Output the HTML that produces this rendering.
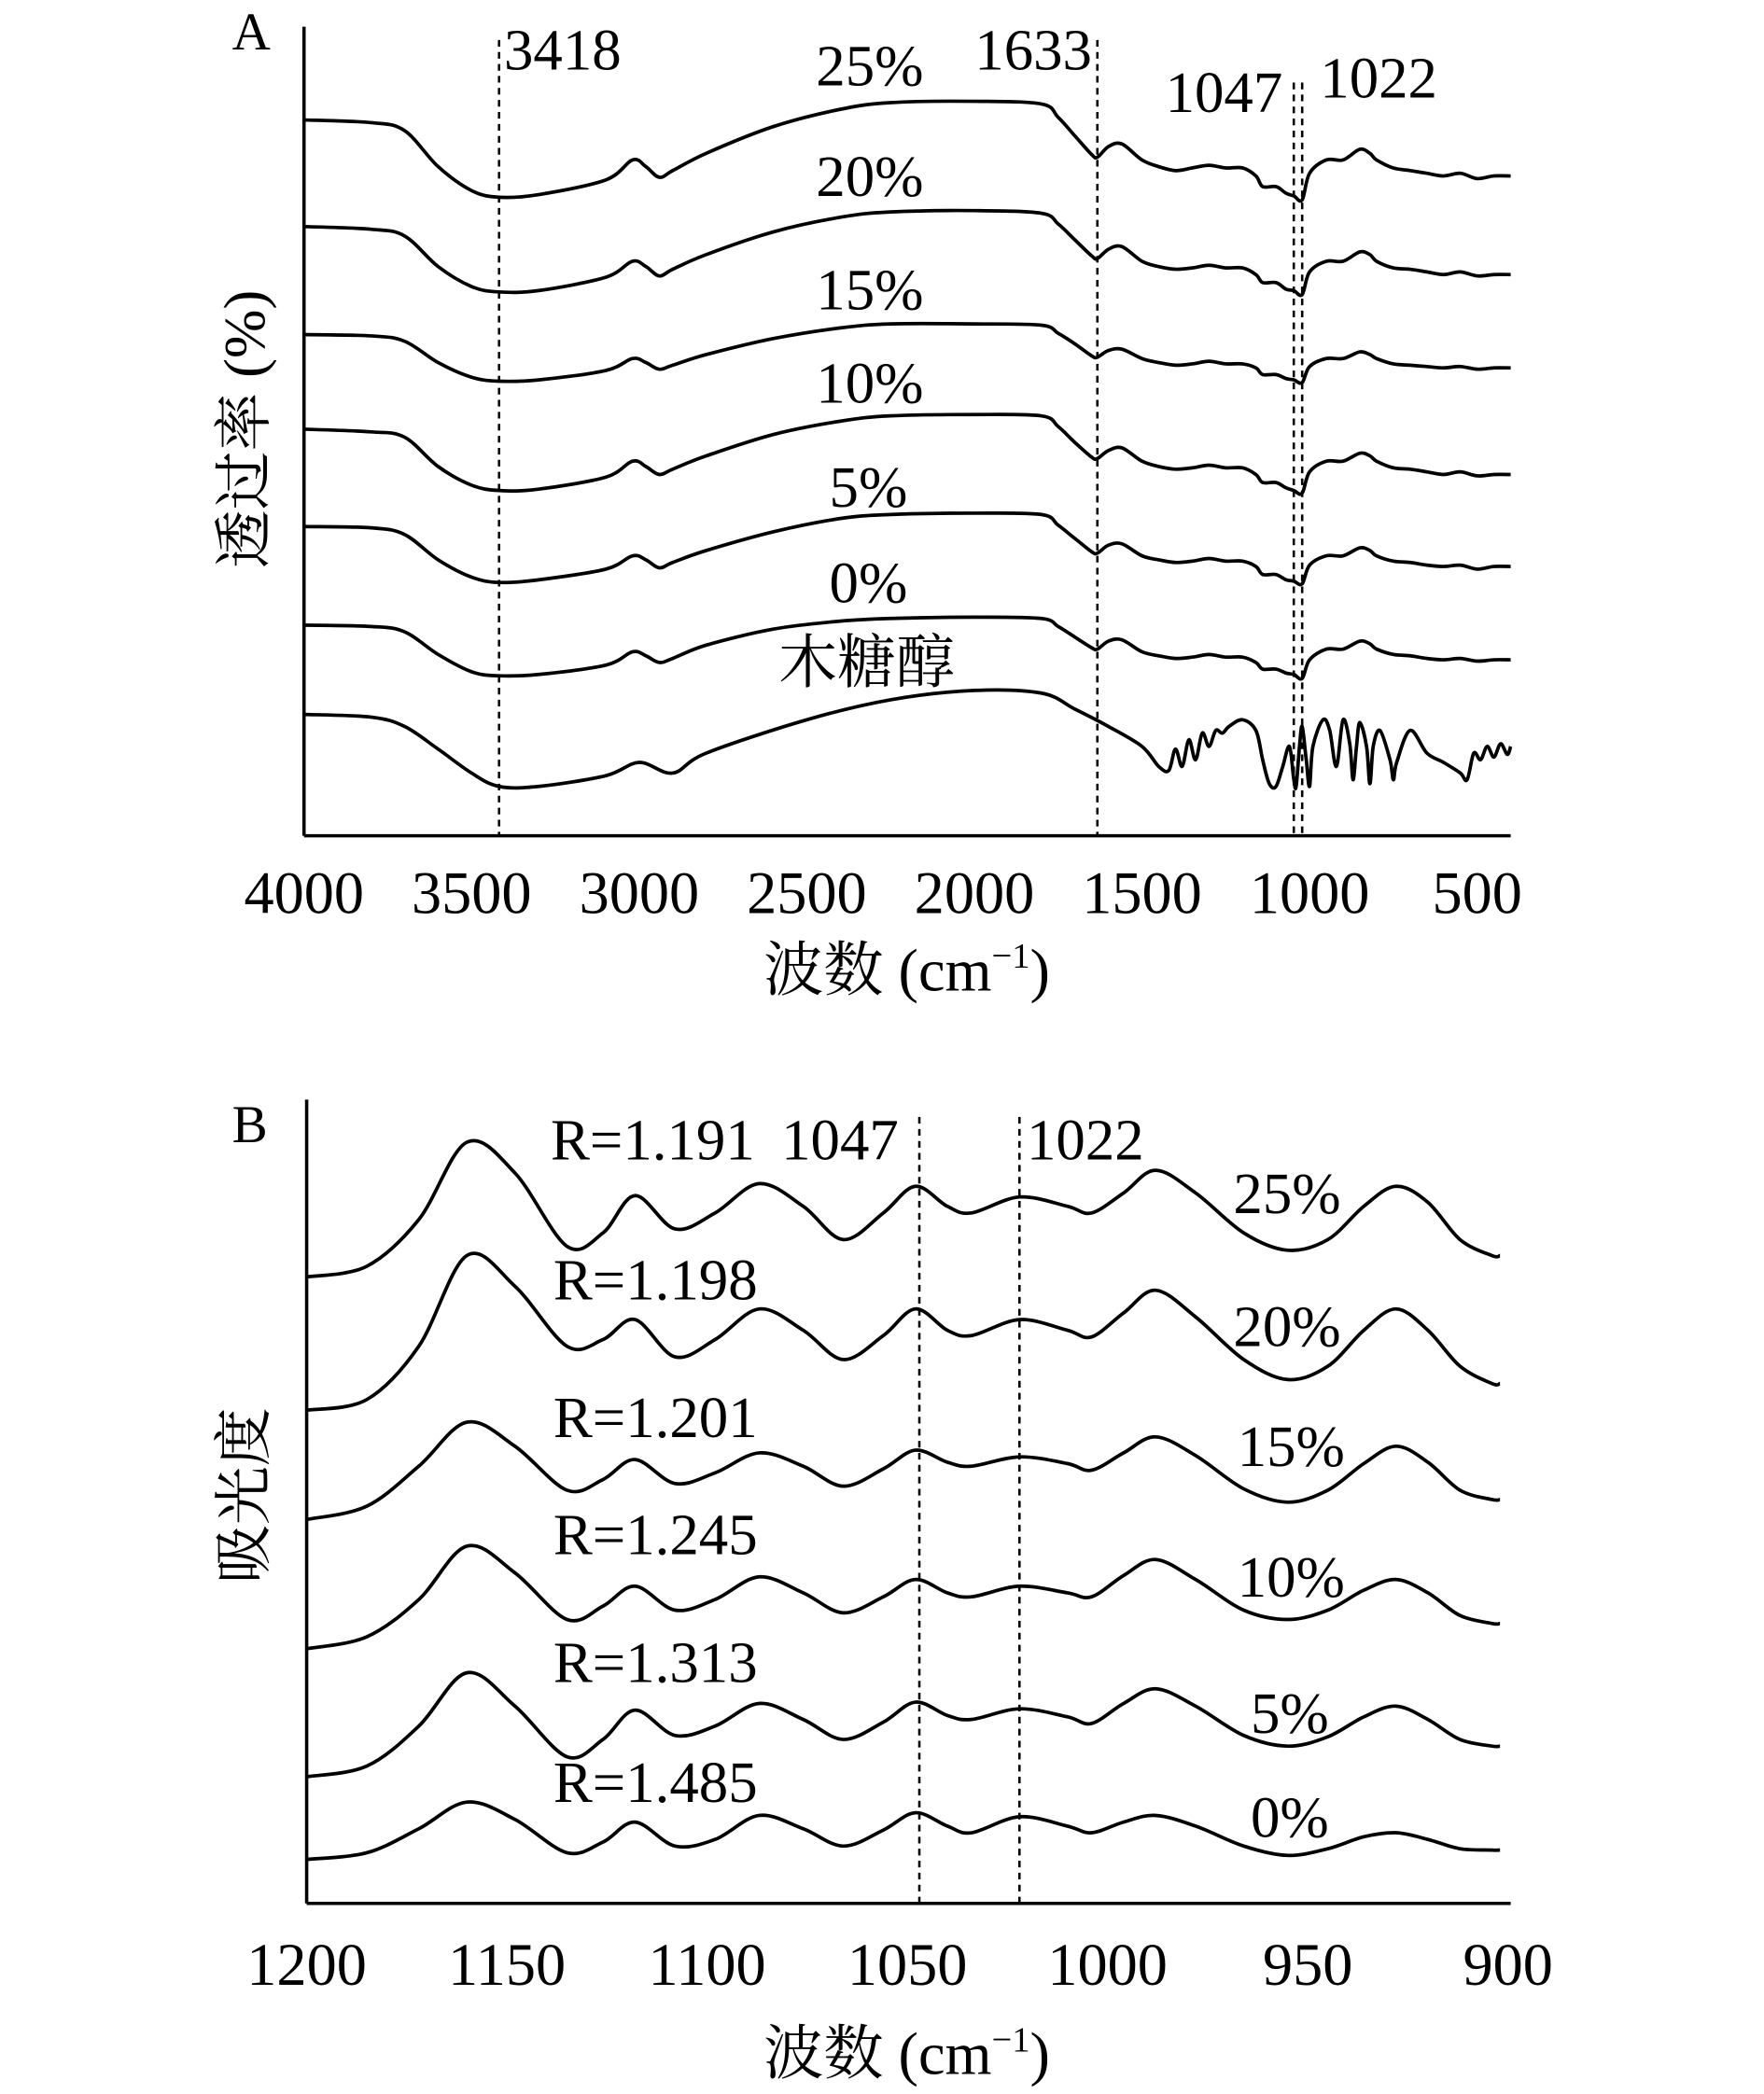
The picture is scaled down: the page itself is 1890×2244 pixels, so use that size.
<!DOCTYPE html>
<html><head><meta charset="utf-8">
<style>
html,body{margin:0;padding:0;background:#fff;}
svg{display:block;}
text{font-family:"Liberation Serif","Noto Serif CJK SC",serif;fill:#000;}
</style></head>
<body>
<svg id="fig" width="1890" height="2244" viewBox="0 0 1323 1571" preserveAspectRatio="none" xmlns="http://www.w3.org/2000/svg">
<g id="panelA">
  <line x1="228" y1="20" x2="228" y2="627" stroke="#000" stroke-width="2.5"/>
  <line x1="228" y1="627" x2="1133" y2="627" stroke="#000" stroke-width="2.5"/>
  <text x="174" y="37" font-size="40">A</text>
  <text x="378" y="52" font-size="44">3418</text>
  <text x="731" y="52" font-size="44">1633</text>
  <text x="874" y="84" font-size="44">1047</text>
  <text x="990" y="73" font-size="44">1022</text>
  <text x="612" y="64" font-size="44">25%</text>
  <text x="612" y="147" font-size="44">20%</text>
  <text x="612" y="232" font-size="44">15%</text>
  <text x="612" y="302" font-size="44">10%</text>
  <text x="622" y="380" font-size="44">5%</text>
  <text x="622" y="452" font-size="44">0%</text>
  <text x="584" y="512" font-size="44">木糖醇</text>
  <text transform="translate(198,322) rotate(-90)" text-anchor="middle" font-size="44">透过率 (%)</text>
  <text x="680" y="743" text-anchor="middle" font-size="45">波数 (cm<tspan font-size="27" dy="-17">−1</tspan><tspan dy="17">)</tspan></text>
</g>
<g id="panelB">
  <line x1="230" y1="825" x2="230" y2="1428" stroke="#000" stroke-width="2.5"/>
  <line x1="230" y1="1428" x2="1133" y2="1428" stroke="#000" stroke-width="2.5"/>
  <text x="174" y="857" font-size="40">B</text>
  <text x="413" y="870" font-size="44">R=1.191</text>
  <text x="586" y="870" font-size="44">1047</text>
  <text x="770" y="870" font-size="44">1022</text>
  <text x="415" y="975" font-size="44">R=1.198</text>
  <text x="415" y="1078" font-size="44">R=1.201</text>
  <text x="415" y="1166" font-size="44">R=1.245</text>
  <text x="415" y="1262" font-size="44">R=1.313</text>
  <text x="415" y="1352" font-size="44">R=1.485</text>
  <text x="925" y="910" font-size="44">25%</text>
  <text x="925" y="1010" font-size="44">20%</text>
  <text x="928" y="1100" font-size="44">15%</text>
  <text x="928" y="1198" font-size="44">10%</text>
  <text x="938" y="1300" font-size="44">5%</text>
  <text x="938" y="1378" font-size="44">0%</text>
  <text transform="translate(198,1122) rotate(-90)" text-anchor="middle" font-size="44">吸光度</text>
  <text x="680" y="1556" text-anchor="middle" font-size="45">波数 (cm<tspan font-size="27" dy="-17">−1</tspan><tspan dy="17">)</tspan></text>
</g>
</svg>
<script>
// ---------- Panel A data ----------
const waveA = [4000,3800,3700,3600,3500,3418,3300,3100,3020,2980,2940,2900,2800,2600,2400,2250,2000,1800,1750,1700,1650,1633,1600,1560,1500,1450,1400,1350,1300,1250,1200,1160,1140,1100,1070,1047,1022,1000,950,900,850,820,800,750,700,650,600,550,500,450,400];
const tA25 = [550,548,542,515,497,492,494,505,520,515,507,512,525,545,558,563,564,562,552,538,524,522,530,532,520,515,512,514,516,514,514,508,500,500,495,493,490,510,520,520,528,525,520,514,512,510,508,510,506,508,508];
const tA20 = [470,468,463,440,425,421,422,432,444,440,433,438,449,466,477,481,482,480,472,460,448,446,453,455,444,440,438,439,441,439,439,434,428,428,423,422,419,436,444,444,451,449,444,439,438,436,434,436,433,434,434];
const tA15 = [389,388,384,368,357,354,355,362,371,368,363,366,374,386,394,397,397,396,390,382,373,372,377,378,371,368,366,367,369,367,367,364,359,359,356,355,353,365,371,371,376,374,371,367,366,365,364,365,363,364,364];
const tA10 = [318,316,312,290,276,272,273,282,294,290,284,288,298,314,324,328,329,328,320,308,297,296,302,304,294,290,288,289,291,289,289,284,278,278,274,272,270,286,294,294,300,298,294,289,288,286,284,286,283,284,284];
const tA5 = [245,244,239,220,207,203,205,213,223,220,214,218,227,241,251,254,255,254,246,236,226,225,231,232,223,220,218,219,221,219,219,215,209,209,205,204,202,216,223,223,229,227,223,219,218,216,215,216,213,215,215];
const tA0 = [171,170,166,149,136,133,134,141,151,148,143,146,156,168,174,176,177,176,170,162,154,153,159,160,151,148,146,147,149,147,147,143,138,138,135,134,131,145,153,153,159,157,153,149,148,146,145,146,144,145,145];
const waveXyl = [4000,3800,3700,3600,3500,3418,3300,3100,3000,2900,2800,2500,2250,2000,1800,1700,1600,1500,1450,1420,1400,1380,1360,1340,1320,1300,1280,1260,1240,1200,1160,1140,1120,1100,1080,1060,1047,1040,1030,1022,1010,1000,990,960,940,920,900,880,870,860,850,830,820,810,790,760,750,740,700,650,600,550,530,510,490,470,450,430,410,400];
const tXyl = [104,102,95,78,60,50,50,58,68,60,75,100,115,122,120,108,95,80,65,62,78,65,85,70,90,80,92,90,95,100,92,70,52,50,65,80,55,50,80,95,70,50,80,100,92,65,100,82,55,80,98,80,52,80,92,70,55,68,92,75,68,60,55,75,70,80,72,82,74,80];
const ticksA = [4000,3500,3000,2500,2000,1500,1000,500];
const markersA = [3418,1633,1047,1022];

// ---------- Panel B data ----------
const waveB = [1200,1185,1172,1160,1148,1135,1126,1118,1108,1098,1087,1076,1066,1056,1048,1040,1034,1022,1010,1004,996,988,978,966,955,945,936,928,920,912,904,902];
const aB25 = [482,490,525,583,560,505,515,543,518,530,552,535,510,530,550,535,530,542,535,530,545,562,545,515,502,510,535,550,538,510,498,498];
const aB20 = [382,390,430,498,475,430,435,450,422,435,458,442,420,438,458,442,438,450,442,437,455,472,452,420,405,415,442,458,442,415,402,402];
const aB15 = [300,310,340,373,355,322,330,345,327,335,350,340,325,338,352,343,340,347,342,337,350,362,348,323,313,322,342,355,343,322,315,315];
const aB10 = [203,212,240,280,260,225,235,250,232,240,257,245,230,242,255,245,242,250,245,242,258,270,255,232,225,232,247,255,245,228,222,222];
const aB5 = [107,115,145,185,160,122,135,157,138,145,162,150,135,148,163,153,150,158,152,147,162,173,160,138,130,137,152,160,150,135,130,130];
const aB0 = [45,50,68,88,75,50,58,73,55,60,78,68,55,67,80,70,65,77,70,65,73,78,70,55,48,53,62,65,60,53,52,52];
const ticksB = [1200,1150,1100,1050,1000,950,900];
const markersB = [1047,1022];

const NS = 'http://www.w3.org/2000/svg';
function lin(d0,d1,r0,r1){return v=>r0+(v-d0)*(r1-r0)/(d1-d0);}
const xA = lin(4000,400,228,1133), yA = lin(0,620,640,20);
const xB = lin(1200,900,230,1131), yB = lin(0,620,1440,820);

function smoothPath(pts){
  let d='M'+pts[0][0].toFixed(1)+','+pts[0][1].toFixed(1);
  for(let i=0;i<pts.length-1;i++){
    const p0=pts[Math.max(i-1,0)],p1=pts[i],p2=pts[i+1],p3=pts[Math.min(i+2,pts.length-1)];
    const c1=[p1[0]+(p2[0]-p0[0])/6,p1[1]+(p2[1]-p0[1])/6];
    const c2=[p2[0]-(p3[0]-p1[0])/6,p2[1]-(p3[1]-p1[1])/6];
    d+='C'+c1[0].toFixed(1)+','+c1[1].toFixed(1)+' '+c2[0].toFixed(1)+','+c2[1].toFixed(1)+' '+p2[0].toFixed(1)+','+p2[1].toFixed(1);
  }
  return d;
}
const gA=document.getElementById('panelA'), gB=document.getElementById('panelB');
function drawSeries(g,xs,ys,xf,yf,name){
  const p=document.createElementNS(NS,'path');
  p.setAttribute('d',smoothPath(xs.map((w,i)=>[xf(w),yf(ys[i])])));
  p.setAttribute('fill','none');p.setAttribute('stroke','#000');p.setAttribute('stroke-width','2.6');
  
  
  g.appendChild(p);
}
function drawMarker(g,w,xf,y0,y1,name){
  const l=document.createElementNS(NS,'line');
  l.setAttribute('x1',xf(w));l.setAttribute('x2',xf(w));l.setAttribute('y1',y0);l.setAttribute('y2',y1);
  l.setAttribute('stroke','#000');l.setAttribute('stroke-width','1.8');l.setAttribute('stroke-dasharray','5,4');
  
  
  g.appendChild(l);
}
function drawTick(g,v,xf,y,name){
  const t=document.createElementNS(NS,'text');
  t.setAttribute('x',xf(v));t.setAttribute('y',y);t.setAttribute('text-anchor','middle');t.setAttribute('font-size','45');
  t.textContent=v;
  
  
  g.appendChild(t);
}
markersA.forEach((w,i)=>drawMarker(gA,w,xA,i<2?30:62,627,'marker-line-a-'+w));
drawSeries(gA,waveA,tA25,xA,yA,'spectrum-25pct');
drawSeries(gA,waveA,tA20,xA,yA,'spectrum-20pct');
drawSeries(gA,waveA,tA15,xA,yA,'spectrum-15pct');
drawSeries(gA,waveA,tA10,xA,yA,'spectrum-10pct');
drawSeries(gA,waveA,tA5,xA,yA,'spectrum-5pct');
drawSeries(gA,waveA,tA0,xA,yA,'spectrum-0pct');
drawSeries(gA,waveXyl,tXyl,xA,yA,'spectrum-xylitol');
ticksA.forEach(v=>drawTick(gA,v,xA,685,'x-tick-a-'+v));

markersB.forEach(w=>drawMarker(gB,w,xB,838,1428,'marker-line-b-'+w));
drawSeries(gB,waveB,aB25,xB,yB,'absorbance-25pct');
drawSeries(gB,waveB,aB20,xB,yB,'absorbance-20pct');
drawSeries(gB,waveB,aB15,xB,yB,'absorbance-15pct');
drawSeries(gB,waveB,aB10,xB,yB,'absorbance-10pct');
drawSeries(gB,waveB,aB5,xB,yB,'absorbance-5pct');
drawSeries(gB,waveB,aB0,xB,yB,'absorbance-0pct');
ticksB.forEach(v=>drawTick(gB,v,xB,1489,'x-tick-b-'+v));
</script>
</body></html>
